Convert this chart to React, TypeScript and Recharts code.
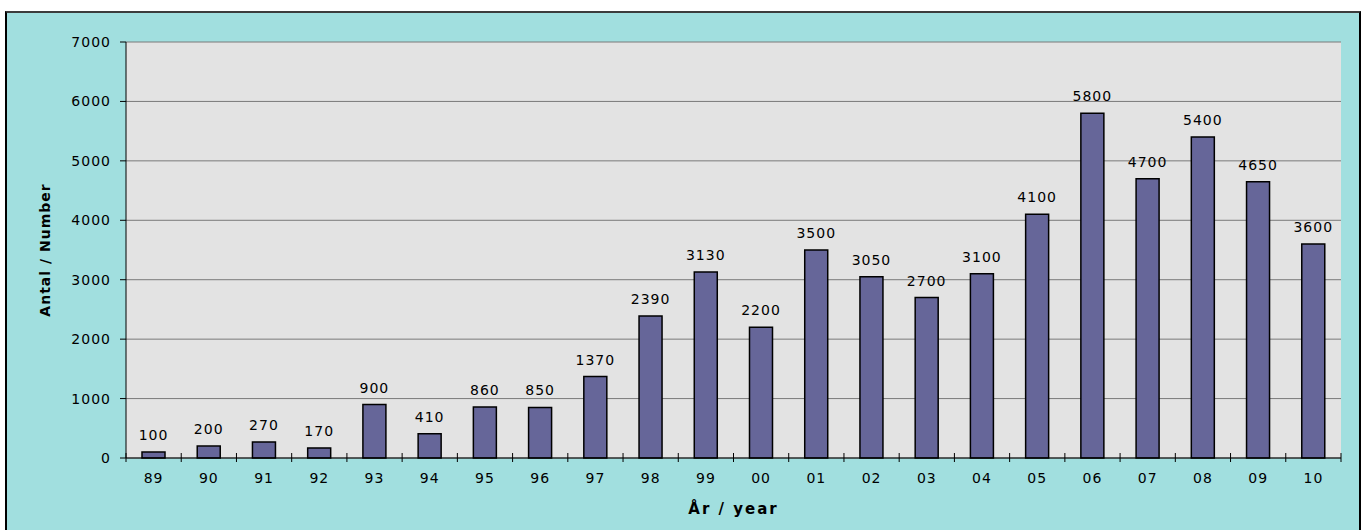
import React from 'react';
import { BarChart, Bar, XAxis, YAxis, CartesianGrid, LabelList, Label } from 'recharts';

const years = ['89', '90', '91', '92', '93', '94', '95', '96', '97', '98', '99', '00', '01', '02', '03', '04', '05', '06', '07', '08', '09', '10'];
const counts = [100, 200, 270, 170, 900, 410, 860, 850, 1370, 2390, 3130, 2200, 3500, 3050, 2700, 3100, 4100, 5800, 4700, 5400, 4650, 3600];
const yTicks = [0, 1000, 2000, 3000, 4000, 5000, 6000, 7000];

const data = years.map((year, i) => ({ year, count: counts[i] }));

const FONT = '"DejaVu Sans", Arial, sans-serif';

function YearTick(props: any) {
  const { x, y, payload, index } = props;
  const half = payload?.offset ?? 27.6;
  const left = x - half;
  return (
    <g>
      <line x1={left} x2={left} y1={y - 5} y2={y + 4} stroke="#000" strokeWidth={1} />
      {index === years.length - 1 && (
        <line x1={x + half} x2={x + half} y1={y - 5} y2={y + 4} stroke="#000" strokeWidth={1} />
      )}
      <text x={x} y={y + 25} textAnchor="middle" fontSize={14} fill="#000" style={{ fontFamily: FONT, letterSpacing: 1 }}>
        {payload.value}
      </text>
    </g>
  );
}

export default function App() {
  return (
    <div style={{ position: 'absolute', left: 0, top: 0, width: 1368, height: 530, background: '#fff', overflow: 'hidden' }}>
      <div
        style={{
          position: 'absolute',
          left: 5,
          top: 11,
          width: 1352,
          height: 530,
          background: '#a1dfdf',
          borderTop: '2px solid #3c3c3c',
          borderLeft: '2px solid #000',
          borderRight: '2px solid #000',
        }}
      />
      <div style={{ position: 'absolute', left: 0, top: 0 }}>
        <BarChart width={1368} height={530} data={data} margin={{ top: 42, right: 27, left: 0, bottom: 0 }} barSize={23}>
          <CartesianGrid vertical={false} stroke="#7a7a7a" fill="#e3e3e3" strokeWidth={1} />
          <XAxis
            dataKey="year"
            height={72}
            axisLine={{ stroke: '#000' }}
            tickLine={false}
            tickSize={0}
            tickMargin={0}
            interval={0}
            tick={<YearTick />}
          >
            <Label
              value="År / year"
              position="insideBottom"
              offset={16}
              style={{ fontFamily: FONT, fontSize: 15, fontWeight: 'bold', letterSpacing: 2, fill: '#000' }}
            />
          </XAxis>
          <YAxis
            width={126}
            domain={[0, 7000]}
            ticks={yTicks}
            interval={0}
            axisLine={{ stroke: '#000' }}
            tickLine={{ stroke: '#000' }}
            tickSize={6}
            tickMargin={9}
            tick={{ fill: '#000', fontSize: 14, fontFamily: FONT, letterSpacing: 1 }}
          >
            <Label
              value="Antal / Number"
              angle={-90}
              position="insideLeft"
              offset={45}
              style={{ fontFamily: FONT, fontSize: 14, fontWeight: 'bold', letterSpacing: 1, fill: '#000', textAnchor: 'middle' }}
            />
          </YAxis>
          <Bar dataKey="count" fill="#666699" stroke="#000" strokeWidth={1.5} isAnimationActive={false}>
            <LabelList
              dataKey="count"
              position="top"
              offset={12}
              style={{ fontFamily: FONT, fontSize: 14, fill: '#000', letterSpacing: 1 }}
            />
          </Bar>
        </BarChart>
      </div>
    </div>
  );
}
